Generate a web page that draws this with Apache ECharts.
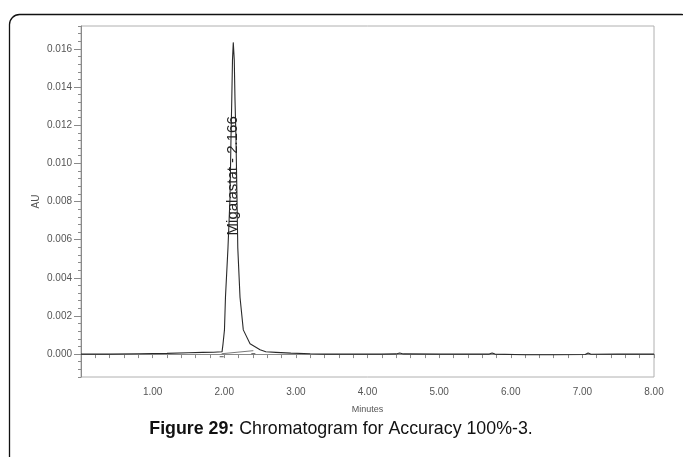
<!DOCTYPE html>
<html>
<head>
<meta charset="utf-8">
<script src="https://cdn.jsdelivr.net/npm/echarts@6/dist/echarts.min.js"></script>
<style>
  html, body { margin: 0; padding: 0; background: #fff; }
  #chart { width: 683px; height: 457px; }
</style>
</head>
<body>
<div id="chart"></div>
<script>
// ---- data ----
var timeMin = [0.00, 0.40, 0.80, 1.20, 1.50, 1.70, 1.85, 1.969, 1.983, 2.003, 2.017, 2.052, 2.080, 2.094, 2.105, 2.115, 2.126, 2.140, 2.150, 2.164, 2.178, 2.189, 2.220, 2.266, 2.360, 2.500, 2.58, 2.72, 2.93, 3.20, 3.40, 3.80, 4.20, 4.40, 4.45, 4.50, 5.00, 5.40, 5.70, 5.74, 5.78, 6.20, 6.60, 7.04, 7.08, 7.12, 7.50, 8.00];
var signalAU = [0.00000, 0.00000, 0.00002, 0.00004, 0.00007, 0.00009, 0.00010, 0.00012, 0.00054, 0.00127, 0.00298, 0.00557, 0.00816, 0.01127, 0.01334, 0.01541, 0.01634, 0.01541, 0.01334, 0.01127, 0.00816, 0.00557, 0.00298, 0.00127, 0.00054, 0.00023, 0.00012, 0.00009, 0.00005, 0.00002, 0.00000, 0.00000, 0.00000, 0.00001, 0.00006, 0.00001, 0.00000, 0.00000, 0.00000, 0.00006, 0.00000, -0.00003, -0.00003, -0.00002, 0.00006, -0.00001, 0.00000, 0.00000];
var baselineTime = [1.964, 2.406];
var baselineAU = [0.00002, 0.00018];
var peakName = 'Migalastat';
var peakRT = '2.166';
var xTickLabels = [1, 2, 3, 4, 5, 6, 7, 8];
var yTickLabels = [0.000, 0.002, 0.004, 0.006, 0.008, 0.010, 0.012, 0.014, 0.016];
var xTitle = 'Minutes';
var yTitle = 'AU';
var captionBold = 'Figure 29:';
var captionText = ' Chromatogram for Accuracy 100%-3.';

// ---- build ----
var traceData = timeMin.map(function (t, i) { return [t, signalAU[i]]; });
var baseData = baselineTime.map(function (t, i) { return [t, baselineAU[i]]; });
var apexIdx = signalAU.indexOf(Math.max.apply(null, signalAU));
var apexT = timeMin[apexIdx], apexV = signalAU[apexIdx];

var chart = echarts.init(document.getElementById('chart'), null, { renderer: 'canvas' });
var axisGray = '#8a8a8a';
var labelGray = '#555';
var FONT = 'Liberation Sans, Arial, sans-serif';

var option = {
  backgroundColor: '#fff',
  animation: false,
  grid: { left: 81, right: 29, top: 26, bottom: 80, show: true, borderColor: '#b0b0b0', borderWidth: 1 },
  xAxis: {
    type: 'value', min: 0, max: 8, interval: 0.2,
    axisLine: { lineStyle: { color: axisGray, width: 1 } },
    axisTick: { length: 4, lineStyle: { color: axisGray } },
    splitLine: { show: false },
    axisLabel: {
      color: labelGray, fontFamily: FONT, fontSize: 10, margin: 10,
      formatter: function (v) {
        var r = Math.round(v);
        return (Math.abs(v - r) < 1e-6 && xTickLabels.indexOf(r) >= 0) ? r.toFixed(2) : '';
      }
    },
    name: xTitle, nameLocation: 'middle', nameGap: 28,
    nameTextStyle: { color: labelGray, fontFamily: FONT, fontSize: 9 }
  },
  yAxis: [
    {
      type: 'value', min: -0.0012, max: 0.0172, interval: 0.0004,
      axisLine: { show: true, lineStyle: { color: axisGray, width: 1 } },
      axisTick: { show: true, length: 3, lineStyle: { color: axisGray } },
      axisLabel: { show: false },
      splitLine: { show: false }
    },
    {
      type: 'value', min: -0.0012, max: 0.0172, interval: 0.0004, position: 'left',
      axisLine: { show: false },
      axisTick: { show: true, length: 7, customValues: yTickLabels, lineStyle: { color: axisGray } },
      axisLabel: {
        show: true, customValues: yTickLabels, color: labelGray, fontFamily: FONT, fontSize: 10, margin: 9,
        formatter: function (v) { return v.toFixed(3); }
      },
      splitLine: { show: false },
      name: yTitle, nameLocation: 'middle', nameGap: 40, nameRotate: 90, nameMoveOverlap: false,
      nameTextStyle: { color: labelGray, fontFamily: FONT, fontSize: 10 }
    }
  ],
  series: [
    {
      type: 'line', data: traceData, yAxisIndex: 0, showSymbol: false, symbol: 'none',
      lineStyle: { color: '#2a2a2a', width: 1.1 },
      z: 3,
      markPoint: {
        symbol: 'circle', symbolSize: 0,
        data: [{ coord: [apexT, apexV * 0.572] }],
        label: {
          show: true, position: 'inside', rotate: 90,
          formatter: peakName + ' - ' + peakRT,
          color: '#222', fontFamily: FONT, fontSize: 15
        }
      }
    },
    {
      type: 'line', data: baseData, yAxisIndex: 0,
      symbol: 'rect', symbolSize: [4, 1], symbolOffset: [0, 3], showSymbol: true,
      itemStyle: { color: '#555' },
      lineStyle: { color: '#555', width: 0.8 },
      z: 2
    }
  ],
  graphic: [
    {
      type: 'rect', silent: true,
      shape: { x: 9.5, y: 14.5, width: 682, height: 460, r: 10 },
      style: { fill: null, stroke: '#111', lineWidth: 1.3 }
    },
    {
      type: 'text', silent: true, x: 341, y: 429,
      style: {
        text: '{b|' + captionBold + '}' + captionText,
        align: 'center', verticalAlign: 'middle',
        fontFamily: FONT, fontSize: 17.8, fill: '#111',
        rich: { b: { fontWeight: 'bold', fontFamily: FONT, fontSize: 17.8, fill: '#111' } }
      }
    }
  ]
};
chart.setOption(option);
</script>
</body>
</html>
